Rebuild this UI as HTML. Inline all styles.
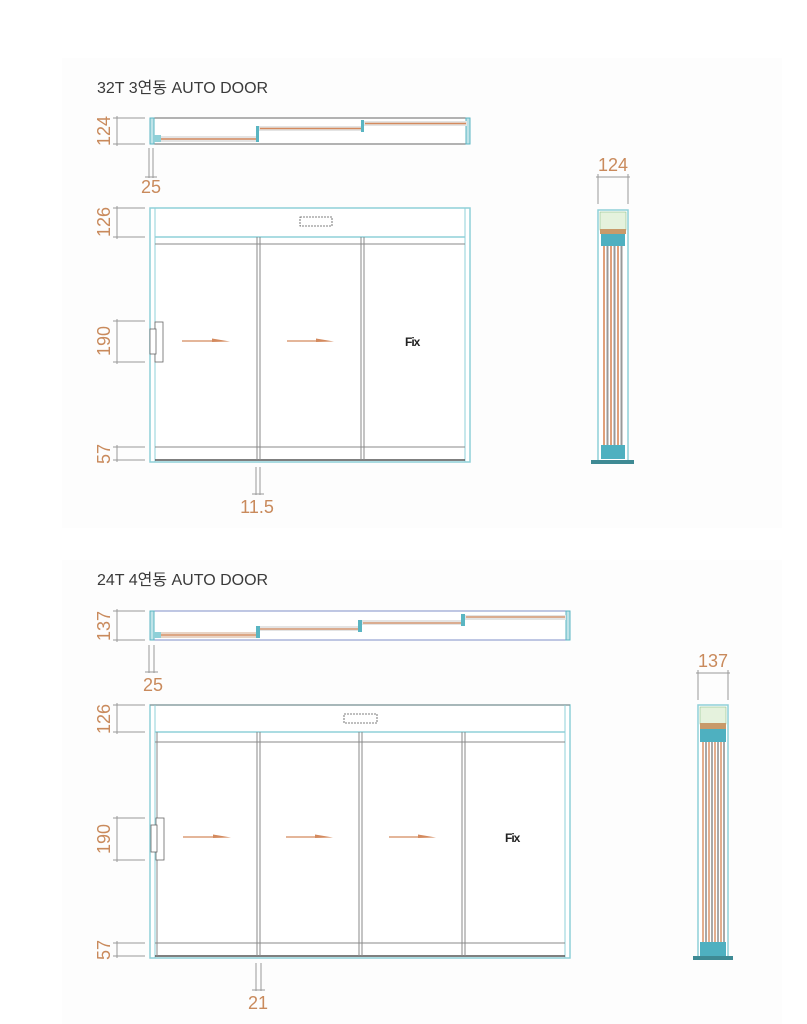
<!DOCTYPE html>
<html><head><meta charset="utf-8"><style>
html,body{margin:0;padding:0;background:#fff;}
svg{display:block;}
.t{font-family:"Liberation Sans","Noto Sans CJK KR",sans-serif;font-size:16px;fill:#3a3a3a;}
.d{font-family:"Liberation Sans",sans-serif;font-size:18px;fill:#c98a5c;}
.fx{font-family:"Liberation Sans",sans-serif;font-size:12px;font-weight:bold;fill:#222;letter-spacing:-1px;}
</style></head><body>
<svg width="807" height="1024" viewBox="0 0 807 1024" xmlns="http://www.w3.org/2000/svg">
<rect x="62" y="58" width="720" height="470" fill="#fdfdfd"/>
<rect x="62" y="560" width="720" height="464" fill="#fdfdfd"/>

<!-- ===== DIAGRAM 1 ===== -->
<text class="t" x="97" y="93">32T 3연동 AUTO DOOR</text>
<g stroke="#999" stroke-width="1" fill="none">
<line x1="113" y1="118" x2="145" y2="118"/><line x1="113" y1="144" x2="145" y2="144"/><line x1="117" y1="116" x2="117" y2="146"/>
<line x1="149" y1="148" x2="149" y2="178"/><line x1="153" y1="148" x2="153" y2="178"/><line x1="145" y1="177" x2="157" y2="177"/>
</g>
<text class="d" transform="translate(110,131) rotate(-90)" text-anchor="middle">124</text>
<text class="d" x="151" y="193" text-anchor="middle">25</text>
<rect x="150" y="118" width="320" height="26" fill="#fff" stroke="#666" stroke-width="1"/>
<rect x="150" y="118" width="4" height="26" fill="#bfe3e8" stroke="#5ab5c2" stroke-width="1"/>
<rect x="466" y="118" width="4" height="26" fill="#bfe3e8" stroke="#5ab5c2" stroke-width="1"/>
<rect x="154" y="136" width="104" height="6" fill="#e4e4e4"/><line x1="160" y1="139" x2="257" y2="139" stroke="#d48a5e" stroke-width="1.5"/>
<rect x="258" y="126" width="104" height="5" fill="#e4e4e4"/><line x1="260" y1="128.5" x2="361" y2="128.5" stroke="#d48a5e" stroke-width="1.5"/>
<rect x="363" y="121" width="104" height="5" fill="#e4e4e4"/><line x1="365" y1="123.5" x2="466" y2="123.5" stroke="#d48a5e" stroke-width="1.5"/>
<rect x="256" y="126" width="3" height="16" fill="#5ab5c2"/><rect x="361" y="120" width="3" height="12" fill="#5ab5c2"/><rect x="153" y="135" width="8" height="7" fill="#8fd0d8"/>

<g stroke="#999" stroke-width="1" fill="none">
<line x1="113" y1="208" x2="145" y2="208"/><line x1="113" y1="237" x2="145" y2="237"/><line x1="117" y1="206" x2="117" y2="239"/>
<line x1="113" y1="321" x2="145" y2="321"/><line x1="113" y1="362" x2="145" y2="362"/><line x1="117" y1="319" x2="117" y2="364"/>
<line x1="113" y1="447" x2="145" y2="447"/><line x1="113" y1="460" x2="145" y2="460"/><line x1="117" y1="445" x2="117" y2="462"/>
<line x1="256" y1="467" x2="256" y2="495"/><line x1="260" y1="467" x2="260" y2="495"/><line x1="252" y1="494" x2="264" y2="494"/>
</g>
<text class="d" transform="translate(110,222) rotate(-90)" text-anchor="middle">126</text>
<text class="d" transform="translate(110,341) rotate(-90)" text-anchor="middle">190</text>
<text class="d" transform="translate(110,454) rotate(-90)" text-anchor="middle">57</text>
<text class="d" x="257" y="513" text-anchor="middle">11.5</text>
<rect x="150" y="208" width="320" height="254" fill="#fff" stroke="#8fd0d8" stroke-width="1.5"/>
<line x1="155" y1="208" x2="155" y2="462" stroke="#8fd0d8" stroke-width="1"/>
<line x1="465" y1="208" x2="465" y2="462" stroke="#8fd0d8" stroke-width="1"/>
<line x1="155" y1="237" x2="465" y2="237" stroke="#8fd0d8" stroke-width="1.5"/>
<line x1="155" y1="244" x2="465" y2="244" stroke="#888" stroke-width="1"/>
<line x1="155" y1="447" x2="465" y2="447" stroke="#888" stroke-width="1"/>
<line x1="155" y1="460" x2="465" y2="460" stroke="#555" stroke-width="1.5"/>
<g stroke="#888" stroke-width="1">
<line x1="257" y1="237" x2="257" y2="460"/><line x1="260" y1="237" x2="260" y2="460"/>
<line x1="361" y1="237" x2="361" y2="460"/><line x1="364" y1="237" x2="364" y2="460"/>
</g>
<rect x="300" y="217" width="32" height="9" fill="none" stroke="#555" stroke-width="0.8" stroke-dasharray="2,1"/>
<rect x="155" y="322" width="8" height="40" fill="#fff" stroke="#666" stroke-width="0.8"/>
<rect x="150" y="329" width="6" height="25" fill="#fff" stroke="#666" stroke-width="0.8"/>
<line x1="182" y1="341" x2="214" y2="341" stroke="#d48a5e" stroke-width="1.2"/><polygon points="212,338.5 230,341.5 212,342" fill="#d48a5e"/>
<line x1="287" y1="341" x2="318" y2="341" stroke="#d48a5e" stroke-width="1.2"/><polygon points="316,338.5 334,341.5 316,342" fill="#d48a5e"/>
<text class="fx" x="405" y="346">Fix</text>

<g stroke="#999" stroke-width="1"><line x1="598" y1="174" x2="598" y2="204"/><line x1="628" y1="174" x2="628" y2="204"/><line x1="596" y1="177" x2="630" y2="177"/></g>
<text class="d" x="613" y="171" text-anchor="middle">124</text>
<rect x="598" y="210" width="30" height="252" fill="#fff" stroke="#8fd0d8" stroke-width="1.5"/>
<rect x="600" y="212" width="26" height="18" fill="#e5f2dd" stroke="#8cc08a" stroke-width="0.6"/>
<rect x="600" y="229" width="26" height="5" fill="#c89a6a"/>
<rect x="601" y="234" width="24" height="12" fill="#4eb0c0"/>
<g stroke-width="2"><line x1="604" y1="246" x2="604" y2="445" stroke="#e0a07a"/><line x1="607.5" y1="246" x2="607.5" y2="445" stroke="#999"/>
<line x1="611" y1="246" x2="611" y2="445" stroke="#e0a07a"/><line x1="614.5" y1="246" x2="614.5" y2="445" stroke="#999"/>
<line x1="618" y1="246" x2="618" y2="445" stroke="#e0a07a"/><line x1="621.5" y1="246" x2="621.5" y2="445" stroke="#999"/></g>
<rect x="601" y="445" width="24" height="14" fill="#4eb0c0"/>
<rect x="591" y="460" width="43" height="4" fill="#3e8a94"/>

<!-- ===== DIAGRAM 2 ===== -->
<text class="t" x="97" y="585">24T 4연동 AUTO DOOR</text>
<g stroke="#999" stroke-width="1" fill="none">
<line x1="113" y1="611" x2="145" y2="611"/><line x1="113" y1="640" x2="145" y2="640"/><line x1="117" y1="609" x2="117" y2="642"/>
<line x1="149" y1="645" x2="149" y2="673"/><line x1="154" y1="645" x2="154" y2="673"/><line x1="145" y1="672" x2="158" y2="672"/>
</g>
<text class="d" transform="translate(110,626) rotate(-90)" text-anchor="middle">137</text>
<text class="d" x="153" y="691" text-anchor="middle">25</text>
<rect x="150" y="611" width="420" height="29" fill="#fff" stroke="#7f8fc8" stroke-width="1"/>
<rect x="150" y="611" width="4" height="29" fill="#bfe3e8" stroke="#5ab5c2" stroke-width="1"/>
<rect x="566" y="611" width="4" height="29" fill="#bfe3e8" stroke="#5ab5c2" stroke-width="1"/>
<rect x="154" y="632" width="104" height="6" fill="#e8d4c6"/><line x1="160" y1="635" x2="257" y2="635" stroke="#d48a5e" stroke-width="1.2"/>
<rect x="258" y="626" width="103" height="5" fill="#e4e4e4"/><line x1="260" y1="629" x2="360" y2="629" stroke="#d48a5e" stroke-width="1.2"/>
<rect x="361" y="620" width="103" height="5" fill="#e4e4e4"/><line x1="363" y1="623" x2="463" y2="623" stroke="#d48a5e" stroke-width="1.2"/>
<rect x="464" y="615" width="102" height="5" fill="#e4e4e4"/><line x1="466" y1="617" x2="565" y2="617" stroke="#d48a5e" stroke-width="1.2"/>
<rect x="256" y="626" width="4" height="12" fill="#5ab5c2"/><rect x="358" y="620" width="4" height="12" fill="#5ab5c2"/><rect x="461" y="614" width="4" height="12" fill="#5ab5c2"/><rect x="153" y="632" width="8" height="6" fill="#8fd0d8"/>

<g stroke="#999" stroke-width="1" fill="none">
<line x1="113" y1="705" x2="145" y2="705"/><line x1="113" y1="732" x2="145" y2="732"/><line x1="117" y1="703" x2="117" y2="734"/>
<line x1="113" y1="818" x2="145" y2="818"/><line x1="113" y1="860" x2="145" y2="860"/><line x1="117" y1="816" x2="117" y2="862"/>
<line x1="113" y1="943" x2="145" y2="943"/><line x1="113" y1="956" x2="145" y2="956"/><line x1="117" y1="941" x2="117" y2="958"/>
<line x1="256" y1="963" x2="256" y2="991"/><line x1="261" y1="963" x2="261" y2="991"/><line x1="252" y1="990" x2="265" y2="990"/>
</g>
<text class="d" transform="translate(110,719) rotate(-90)" text-anchor="middle">126</text>
<text class="d" transform="translate(110,839) rotate(-90)" text-anchor="middle">190</text>
<text class="d" transform="translate(110,950) rotate(-90)" text-anchor="middle">57</text>
<text class="d" x="258" y="1009" text-anchor="middle">21</text>
<rect x="150" y="705" width="420" height="253" fill="#fff" stroke="#8fd0d8" stroke-width="1.5"/>
<line x1="150" y1="705" x2="570" y2="705" stroke="#888" stroke-width="1"/>
<line x1="155" y1="705" x2="155" y2="958" stroke="#8fd0d8" stroke-width="1"/>
<line x1="565" y1="705" x2="565" y2="958" stroke="#8fd0d8" stroke-width="1"/>
<line x1="155" y1="732" x2="565" y2="732" stroke="#8fd0d8" stroke-width="1.5"/>
<line x1="155" y1="742" x2="565" y2="742" stroke="#888" stroke-width="1"/>
<line x1="155" y1="943" x2="565" y2="943" stroke="#888" stroke-width="1"/>
<line x1="155" y1="956" x2="565" y2="956" stroke="#555" stroke-width="1.5"/>
<line x1="157" y1="732" x2="157" y2="956" stroke="#888" stroke-width="1"/>
<g stroke="#888" stroke-width="1">
<line x1="257" y1="732" x2="257" y2="956"/><line x1="260" y1="732" x2="260" y2="956"/>
<line x1="359" y1="732" x2="359" y2="956"/><line x1="362" y1="732" x2="362" y2="956"/>
<line x1="462" y1="732" x2="462" y2="956"/><line x1="465" y1="732" x2="465" y2="956"/>
</g>
<rect x="344" y="714" width="33" height="9" fill="none" stroke="#555" stroke-width="0.8" stroke-dasharray="2,1"/>
<rect x="156" y="818" width="8" height="42" fill="#fff" stroke="#666" stroke-width="0.8"/>
<rect x="151" y="825" width="6" height="27" fill="#fff" stroke="#666" stroke-width="0.8"/>
<line x1="183" y1="837" x2="215" y2="837" stroke="#d48a5e" stroke-width="1.2"/><polygon points="213,834.5 231,837.5 213,838" fill="#d48a5e"/>
<line x1="286" y1="837" x2="317" y2="837" stroke="#d48a5e" stroke-width="1.2"/><polygon points="315,834.5 333,837.5 315,838" fill="#d48a5e"/>
<line x1="389" y1="837" x2="420" y2="837" stroke="#d48a5e" stroke-width="1.2"/><polygon points="418,834.5 436,837.5 418,838" fill="#d48a5e"/>
<text class="fx" x="505" y="842">Fix</text>

<g stroke="#999" stroke-width="1"><line x1="698" y1="670" x2="698" y2="700"/><line x1="728" y1="670" x2="728" y2="700"/><line x1="696" y1="673" x2="730" y2="673"/></g>
<text class="d" x="713" y="667" text-anchor="middle">137</text>
<rect x="698" y="705" width="30" height="253" fill="#fff" stroke="#8fd0d8" stroke-width="1.5"/>
<rect x="700" y="707" width="26" height="17" fill="#e5f2dd" stroke="#8cc08a" stroke-width="0.6"/>
<rect x="700" y="723" width="26" height="6" fill="#c89a6a"/>
<rect x="700" y="729" width="26" height="13" fill="#4eb0c0"/>
<g stroke-width="1.7"><line x1="703" y1="742" x2="703" y2="942" stroke="#e0a07a"/><line x1="706" y1="742" x2="706" y2="942" stroke="#999"/>
<line x1="709" y1="742" x2="709" y2="942" stroke="#e0a07a"/><line x1="712" y1="742" x2="712" y2="942" stroke="#999"/>
<line x1="715" y1="742" x2="715" y2="942" stroke="#e0a07a"/><line x1="718" y1="742" x2="718" y2="942" stroke="#999"/>
<line x1="721" y1="742" x2="721" y2="942" stroke="#e0a07a"/><line x1="724" y1="742" x2="724" y2="942" stroke="#999"/></g>
<rect x="700" y="942" width="26" height="14" fill="#4eb0c0"/>
<rect x="693" y="956" width="40" height="4" fill="#3e8a94"/>
</svg>
</body></html>
